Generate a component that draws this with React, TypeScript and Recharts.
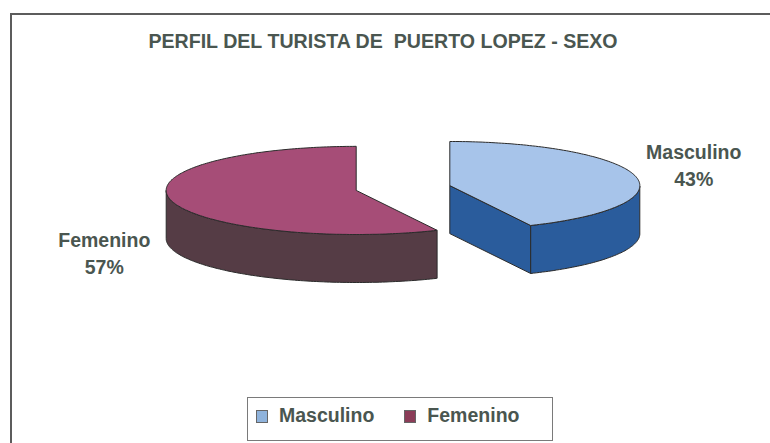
import { PieChart, Pie, Cell, Legend } from 'recharts';

const categories = ['Masculino', 'Femenino'];
const values = [43, 57];

const topColors = ['#a7c4ea', '#a64d77'];
const sideColors = ['#2a5c9c', '#553c45'];
const swatchColors = ['#8fb3dc', '#8b3d58'];

const data = categories.map((name, i) => ({ name, value: values[i] }));

const TILT = 0.232;
const DEPTH = 48;
const EXPLODE = 48;
const FONT = '"Liberation Sans", Arial, sans-serif';
const TEXT = '#4a5650';

const rad = (d: number) => (d * Math.PI) / 180;
const pt = (cx: number, cy: number, r: number, deg: number): [number, number] => [
  cx + r * Math.cos(rad(deg)),
  cy - r * Math.sin(rad(deg)) * TILT,
];
const toPath = (pts: [number, number][]) =>
  'M' + pts.map((p) => p[0].toFixed(1) + ',' + p[1].toFixed(1)).join('L') + 'Z';

// draws a tilted, extruded, exploded slice from the sector geometry recharts gives us
function Slice3D(props: any) {
  const { cx, cy, outerRadius: r, startAngle, endAngle, midAngle, payload } = props;
  const idx = categories.indexOf(payload?.name ?? props.name);
  const ox = cx + EXPLODE * Math.cos(rad(midAngle));
  const oy = cy - EXPLODE * Math.sin(rad(midAngle)) * TILT;
  const a1 = Math.min(startAngle, endAngle);
  const a2 = Math.max(startAngle, endAngle);

  const arc: number[] = [];
  for (let a = a1; a < a2; a += 1) arc.push(a);
  arc.push(a2);

  // outer wall, only the parts that face the viewer
  const walls: string[] = [];
  let run: number[] = [];
  const flush = () => {
    if (run.length > 1) {
      const top = run.map((a) => pt(ox, oy, r, a));
      const bottom = run.map((a) => pt(ox, oy + DEPTH, r, a)).reverse();
      walls.push(toPath([...top, ...bottom]));
    }
    run = [];
  };
  for (const a of arc) {
    if (Math.sin(rad(a)) <= 0.001) run.push(a);
    else flush();
  }
  flush();

  // radial faces
  const faces: string[] = [];
  const radial = (a: number) => {
    const [ex, ey] = pt(ox, oy, r, a);
    return toPath([[ox, oy], [ex, ey], [ex, ey + DEPTH], [ox, oy + DEPTH]]);
  };
  if (Math.cos(rad(a1)) > 0.01) faces.push(radial(a1));
  if (Math.cos(rad(a2)) < -0.01) faces.push(radial(a2));

  const top = toPath([[ox, oy], ...arc.map((a) => pt(ox, oy, r, a))]);

  return (
    <g>
      {faces.map((d, i) => (
        <path key={'f' + i} d={d} fill={sideColors[idx]} stroke="#2b2b2b" strokeWidth={1} />
      ))}
      {walls.map((d, i) => (
        <path key={'w' + i} d={d} fill={sideColors[idx]} stroke="#2b2b2b" strokeWidth={1} />
      ))}
      <path d={top} fill={topColors[idx]} stroke="#2b2b2b" strokeWidth={1} />
    </g>
  );
}

function renderLabel(props: any) {
  const { cx, cy, midAngle, percent, name } = props;
  const x = cx - 4 + Math.cos(rad(midAngle)) * 302;
  const y = cy + 22 - Math.sin(rad(midAngle)) * 200;
  return (
    <text x={x} textAnchor="middle" fill={TEXT} fontFamily={FONT} fontSize={19.5} fontWeight="bold">
      <tspan x={x} y={y - 7}>{name}</tspan>
      <tspan x={x} y={y + 20}>{Math.round(percent * 100)}%</tspan>
    </text>
  );
}

function renderLegend() {
  return (
    <div
      style={{
        boxSizing: 'border-box',
        width: 306,
        height: 44,
        border: '1px solid #7a7a7a',
        display: 'flex',
        alignItems: 'flex-start',
        paddingTop: 6,
        paddingLeft: 8,
        fontFamily: FONT,
        fontSize: 19.5,
        fontWeight: 'bold',
        color: TEXT,
        lineHeight: '22px',
        background: '#fff',
      }}
    >
      {categories.map((name, i) => (
        <div key={name} style={{ display: 'flex', alignItems: 'flex-start', marginRight: i === 0 ? 30 : 0 }}>
          <span
            style={{
              display: 'inline-block',
              width: 12,
              height: 13,
              marginTop: 6,
              marginRight: 11,
              background: swatchColors[i],
              border: '1px solid #666',
              boxSizing: 'border-box',
            }}
          />
          <span>{name}</span>
        </div>
      ))}
    </div>
  );
}

export default function App() {
  return (
    <div style={{ position: 'absolute', left: 0, top: 0, width: 770, height: 443, overflow: 'hidden', background: '#fff' }}>
      <div
        style={{
          position: 'absolute',
          left: 10,
          top: 13,
          width: 800,
          height: 500,
          border: '2px solid #5c5c5c',
        }}
      />
      <div
        style={{
          position: 'absolute',
          left: 0,
          top: 31,
          width: 766,
          textAlign: 'center',
          fontFamily: FONT,
          fontSize: 19.6,
          lineHeight: '20px',
          fontWeight: 'bold',
          color: TEXT,
          whiteSpace: 'pre',
        }}
      >
        PERFIL DEL TURISTA DE  PUERTO LOPEZ - SEXO
      </div>
      <PieChart width={770} height={443} margin={{ top: 0, right: 0, bottom: 0, left: 0 }} style={{ position: 'absolute', left: 0, top: 0 }}>
        <Pie
          data={data}
          dataKey="value"
          nameKey="name"
          cx={403}
          cy={188}
          outerRadius={190}
          startAngle={90}
          endAngle={-270}
          isAnimationActive={false}
          shape={Slice3D}
          activeShape={Slice3D}
          inactiveShape={Slice3D}
          label={renderLabel}
          labelLine={false}
        >
          {data.map((d, i) => (
            <Cell key={d.name} fill={topColors[i]} />
          ))}
        </Pie>
        <Legend
          content={renderLegend}
          wrapperStyle={{ position: 'absolute', left: 247, top: 397, width: 306, height: 44, bottom: 'auto' }}
        />
      </PieChart>
    </div>
  );
}
